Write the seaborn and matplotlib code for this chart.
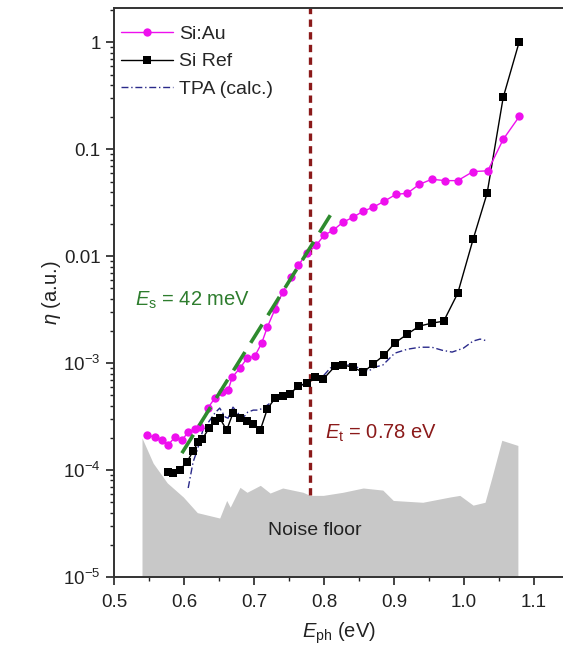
import numpy as np
import pandas as pd
import matplotlib
matplotlib.use("Agg")
import matplotlib.pyplot as plt
import seaborn as sns
from matplotlib.ticker import FixedLocator, FixedFormatter, LogLocator, MultipleLocator, NullFormatter

# ---------------- data ----------------
siau_x = [0.547, 0.559, 0.569, 0.577, 0.587, 0.597, 0.606, 0.616, 0.623, 0.634, 0.644, 0.654,
          0.663, 0.669, 0.680, 0.690, 0.701, 0.711, 0.719, 0.730, 0.741, 0.753, 0.763, 0.776,
          0.789, 0.800, 0.813, 0.827, 0.841, 0.856, 0.870, 0.886, 0.903, 0.919, 0.936, 0.954,
          0.973, 0.991, 1.013, 1.034, 1.056, 1.079]
siau_y = [2.12e-4, 2.03e-4, 1.91e-4, 1.71e-4, 2.03e-4, 1.91e-4, 2.26e-4, 2.42e-4, 2.52e-4, 3.8e-4,
          4.7e-4, 5.4e-4, 5.6e-4, 7.4e-4, 9.0e-4, 1.11e-3, 1.16e-3, 1.54e-3, 2.17e-3, 3.2e-3,
          4.6e-3, 6.4e-3, 8.2e-3, 1.07e-2, 1.27e-2, 1.57e-2, 1.75e-2, 2.08e-2, 2.31e-2, 2.64e-2,
          2.87e-2, 3.27e-2, 3.8e-2, 3.88e-2, 4.7e-2, 5.25e-2, 5.1e-2, 5.1e-2, 6.2e-2, 6.3e-2,
          0.124, 0.203]

ref_x = [0.577, 0.584, 0.594, 0.604, 0.613, 0.620, 0.626, 0.636, 0.644, 0.651, 0.661, 0.670,
         0.680, 0.690, 0.699, 0.709, 0.719, 0.730, 0.741, 0.751, 0.763, 0.776, 0.787, 0.799,
         0.816, 0.827, 0.841, 0.856, 0.870, 0.886, 0.901, 0.919, 0.936, 0.954, 0.971, 0.991,
         1.013, 1.033, 1.056, 1.079]
ref_y = [9.6e-5, 9.4e-5, 1.0e-4, 1.19e-4, 1.5e-4, 1.83e-4, 1.95e-4, 2.47e-4, 2.87e-4, 3.06e-4,
         2.37e-4, 3.41e-4, 3.06e-4, 2.87e-4, 2.69e-4, 2.37e-4, 3.72e-4, 4.71e-4, 4.92e-4, 5.13e-4,
         6.1e-4, 6.5e-4, 7.4e-4, 7.1e-4, 9.4e-4, 9.6e-4, 9.2e-4, 8.2e-4, 9.8e-4, 1.19e-3,
         1.54e-3, 1.87e-3, 2.22e-3, 2.37e-3, 2.47e-3, 4.5e-3, 1.44e-2, 3.88e-2, 0.306, 1.02]

tpa_x = [0.606, 0.613, 0.619, 0.627, 0.637, 0.644, 0.651, 0.659, 0.663, 0.670, 0.677, 0.684,
         0.691, 0.699, 0.706, 0.713, 0.723, 0.734, 0.744, 0.754, 0.766, 0.777, 0.787, 0.799,
         0.809, 0.823, 0.837, 0.851, 0.863, 0.873, 0.884, 0.901, 0.919, 0.937, 0.954, 0.969,
         0.983, 0.999, 1.013, 1.023, 1.034]
tpa_y = [6.8e-5, 1.19e-4, 1.54e-4, 2.37e-4, 2.93e-4, 3.41e-4, 3.8e-4, 3.13e-4, 3.06e-4, 3.88e-4,
         3.41e-4, 3.06e-4, 3.48e-4, 3.64e-4, 3.64e-4, 3.8e-4, 4.23e-4, 4.71e-4, 5.0e-4, 5.36e-4,
         6.1e-4, 6.8e-4, 7.6e-4, 7.6e-4, 9.0e-4, 9.8e-4, 9.6e-4, 9.0e-4, 8.4e-4, 9.2e-4,
         9.6e-4, 1.24e-3, 1.35e-3, 1.41e-3, 1.41e-3, 1.32e-3, 1.27e-3, 1.38e-3, 1.61e-3, 1.68e-3,
         1.61e-3]

noise_x = [0.540, 0.540, 0.556, 0.576, 0.599, 0.619, 0.651, 0.661, 0.666, 0.680, 0.690, 0.709,
           0.723, 0.741, 0.770, 0.780, 0.799, 0.827, 0.856, 0.884, 0.899, 0.941, 0.980, 0.994,
           1.013, 1.030, 1.040, 1.054, 1.077, 1.077]
noise_y = [1e-5, 2.0e-4, 1.16e-4, 7.6e-5, 5.6e-5, 4.0e-5, 3.56e-5, 5.2e-5, 4.5e-5, 6.9e-5,
           6.2e-5, 7.2e-5, 6.1e-5, 6.8e-5, 6.2e-5, 5.8e-5, 5.8e-5, 6.2e-5, 6.8e-5, 6.5e-5,
           5.2e-5, 5.0e-5, 5.6e-5, 5.8e-5, 4.7e-5, 5.0e-5, 8.6e-5, 1.9e-4, 1.7e-4, 1e-5]

fit_x = [0.597, 0.809]
fit_y = [1.44e-4, 2.42e-2]

Et = 0.78
ytick_vals = [1e-5, 1e-4, 1e-3, 1e-2, 1e-1, 1]
ytick_labels = [r'10$^{-5}$', r'10$^{-4}$', r'10$^{-3}$', '0.01', '0.1', '1']
xtick_vals = [0.5, 0.6, 0.7, 0.8, 0.9, 1.0, 1.1]
xtick_labels = ['0.5', '0.6', '0.7', '0.8', '0.9', '1.0', '1.1']

# ---------------- style ----------------
sns.set_style("ticks")
plt.rcParams['font.family'] = ['Liberation Sans', 'DejaVu Sans']
plt.rcParams['mathtext.fontset'] = 'custom'
plt.rcParams['mathtext.rm'] = 'Liberation Sans'
plt.rcParams['mathtext.it'] = 'Liberation Sans:italic'
plt.rcParams['mathtext.default'] = 'rm'

fig = plt.figure(figsize=(5.63, 6.46), dpi=100)
ax = fig.add_axes([114 / 563, 69 / 646, 1 - 114 / 563, (577 - 8) / 646])

# noise floor
ax.fill_between(noise_x, 1e-5, noise_y, color='#c8c8c8', linewidth=0, zorder=1)

# red threshold line
ax.plot([Et, Et], [5.8e-5, 2.1], color='#8b1a1a', linestyle=(0, (2.2, 1.6)), linewidth=2.4, zorder=2)

df_au = pd.DataFrame({'x': siau_x, 'y': siau_y})
df_ref = pd.DataFrame({'x': ref_x, 'y': ref_y})
df_tpa = pd.DataFrame({'x': tpa_x, 'y': tpa_y})

sns.lineplot(data=df_tpa, x='x', y='y', ax=ax, color='#2a2a8a', linewidth=1.0,
             linestyle=(0, (5, 2, 1, 2)), label='TPA (calc.)', zorder=3, sort=False)
sns.lineplot(data=df_ref, x='x', y='y', ax=ax, color='black', linewidth=1.0, marker='s',
             markersize=5.5, markeredgewidth=0, label='Si Ref', zorder=4, sort=False)
sns.lineplot(data=df_au, x='x', y='y', ax=ax, color='#ee10ee', linewidth=1.0, marker='o',
             markersize=6, markeredgewidth=0, label='Si:Au', zorder=5, sort=False)

# fit line
ax.plot(fit_x, fit_y, color='#2e8b2e', linestyle=(0, (6, 3)), linewidth=2.6, zorder=6)

ax.set_yscale('log')
ax.set_xlim(0.5, 0.5 + (563 - 114) / 700)
ax.set_ylim(1e-5, 2.1)

ax.yaxis.set_major_locator(FixedLocator(ytick_vals))
ax.yaxis.set_major_formatter(FixedFormatter(ytick_labels))
ax.yaxis.set_minor_locator(LogLocator(base=10, subs=np.arange(2, 10)))
ax.yaxis.set_minor_formatter(NullFormatter())
ax.xaxis.set_major_locator(FixedLocator(xtick_vals))
ax.xaxis.set_major_formatter(FixedFormatter(xtick_labels))
ax.xaxis.set_minor_locator(MultipleLocator(0.05))

ax.tick_params(axis='both', which='major', labelsize=13.5, length=6, width=1.2, direction='out',
               colors='#222222', labelcolor='#222222')
ax.tick_params(axis='x', which='major', pad=6)
ax.tick_params(axis='both', which='minor', length=3, width=1.0, direction='out', colors='#222222')
for s in ['left', 'bottom', 'top']:
    ax.spines[s].set_linewidth(1.4)
    ax.spines[s].set_color('#333333')
ax.spines['right'].set_visible(False)

ax.set_xlabel(r'$\mathit{E}_{\mathrm{ph}}$ (eV)', fontsize=14.5, color='#222222', labelpad=7)
ax.set_ylabel(r'$\mathit{\eta}$ (a.u.)', fontsize=14.5, color='#222222', labelpad=0)

# annotations
ax.text(0.53, 3.9e-3, r'$\mathit{E}_{\mathrm{s}}$ = 42 meV', color='#2e7d2e', fontsize=14.5,
        ha='left', va='center')
ax.text(0.802, 2.2e-4, r'$\mathit{E}_{\mathrm{t}}$ = 0.78 eV', color='#8b1a1a', fontsize=14.5,
        ha='left', va='center')
ax.text(0.787, 2.7e-5, 'Noise floor', color='#222222', fontsize=14, ha='center', va='center')

# legend (order: Si:Au, Si Ref, TPA)
handles, labels = ax.get_legend_handles_labels()
order = [labels.index('Si:Au'), labels.index('Si Ref'), labels.index('TPA (calc.)')]
ax.legend([handles[i] for i in order], [labels[i] for i in order], loc='upper left',
          frameon=False, fontsize=14, handlelength=2.7, handletextpad=0.3,
          borderaxespad=0.5, borderpad=0.4, labelspacing=0.5, bbox_to_anchor=(-0.024, 1.0))

fig.savefig('out.png', dpi=100)
